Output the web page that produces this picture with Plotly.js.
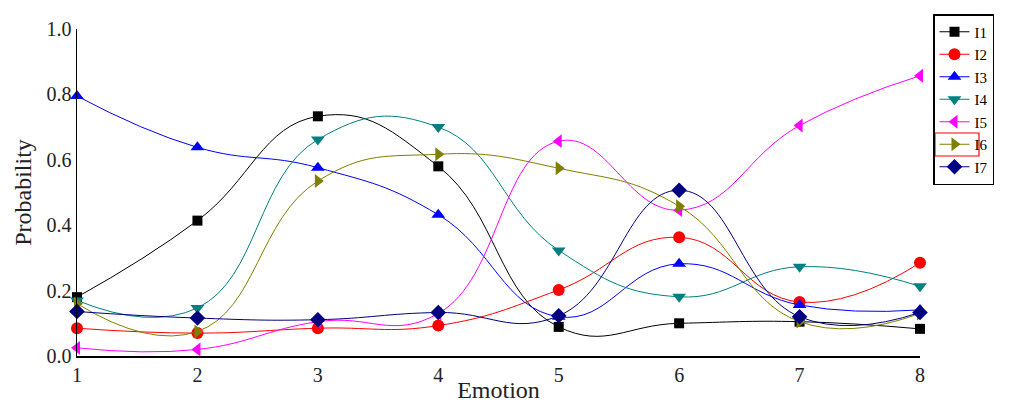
<!DOCTYPE html>
<html>
<head>
<meta charset="utf-8">
<script src="https://cdn.plot.ly/plotly-3.0.1.min.js"></script>
<style>html,body{margin:0;padding:0;background:#fff;}#chart{width:1009px;height:403px;}</style>
</head>
<body>
<div id="chart"></div>
<script>
const emotions = [1, 2, 3, 4, 5, 6, 7, 8];
const seriesNames = ["I1", "I2", "I3", "I4", "I5", "I6", "I7"];
const I1 = [0.18, 0.414, 0.733, 0.58, 0.089, 0.10, 0.105, 0.083];
const I2 = [0.085, 0.07, 0.085, 0.093, 0.202, 0.363, 0.165, 0.285];
const I3 = [0.795, 0.638, 0.576, 0.432, 0.12, 0.282, 0.156, 0.141];
const I4 = [0.17, 0.147, 0.662, 0.70, 0.323, 0.181, 0.273, 0.213];
const I5 = [0.025, 0.02, 0.105, 0.13, 0.657, 0.446, 0.705, 0.857];
const I6 = [0.16, 0.075, 0.535, 0.617, 0.574, 0.458, 0.105, 0.13];
const I7 = [0.136, 0.116, 0.111, 0.133, 0.123, 0.507, 0.12, 0.133];
const yTicks = [0, 0.2, 0.4, 0.6, 0.8, 1.0];
const xTicks = [1, 2, 3, 4, 5, 6, 7, 8];

const values = [I1, I2, I3, I4, I5, I6, I7];
const colors = ["#000000", "#ff0000", "#0000ff", "#008080", "#ff00ff", "#808000", "#000080"];
const symbols = ["square", "circle", "triangle-up", "triangle-down", "triangle-left", "triangle-right", "diamond"];

const traces = values.map((v, i) => ({
  x: emotions,
  y: v,
  name: seriesNames[i],
  type: "scatter",
  mode: "lines+markers",
  line: {color: colors[i], width: 1, shape: "spline", smoothing: 1.3},
  marker: {color: colors[i], symbol: symbols[i], size: i === 0 ? 10 : 12, line: {width: 0}},
  cliponaxis: false
}));

const serif = "Liberation Serif, Times New Roman, serif";
const layout = {
  width: 1009, height: 403,
  margin: {l: 77, r: 89, t: 29, b: 47},
  paper_bgcolor: "#fff", plot_bgcolor: "#fff",
  font: {family: serif, color: "#222"},
  showlegend: true,
  legend: {
    xref: "container", yref: "container",
    x: 933 / 1009, y: 1 - 14 / 403, xanchor: "left", yanchor: "top",
    bordercolor: "#000", borderwidth: 1.5, bgcolor: "rgba(255,255,255,0)",
    font: {family: serif, size: 15, color: "#000"},
    tracegroupgap: 0, itemwidth: 30
  },
  xaxis: {
    range: [1, 8], tickvals: xTicks, ticktext: xTicks.map(String),
    showgrid: false, zeroline: false, showline: true, linecolor: "#000", linewidth: 1.5,
    ticks: "", tickfont: {family: serif, size: 20, color: "#222"},
    title: {text: "Emotion", font: {family: serif, size: 24, color: "#222"}, standoff: 0}
  },
  yaxis: {
    range: [0, 1], tickvals: yTicks, tickformat: ".1f",
    showgrid: false, zeroline: false, showline: true, linecolor: "#000", linewidth: 1.5,
    ticks: "", tickfont: {family: serif, size: 20, color: "#222"},
    title: {text: "Probability", font: {family: serif, size: 24, color: "#222"}, standoff: 8}
  },
  shapes: [{
    type: "rect", xref: "paper", yref: "paper",
    x0: (935 - 77) / 843, x1: (979 - 77) / 843,
    y0: (356 - 156) / 327, y1: (356 - 133) / 327,
    line: {color: "#ff0000", width: 1.2}, fillcolor: "rgba(0,0,0,0)"
  }]
};

Plotly.newPlot("chart", traces, layout, {displayModeBar: false, staticPlot: true});
</script>
</body>
</html>
